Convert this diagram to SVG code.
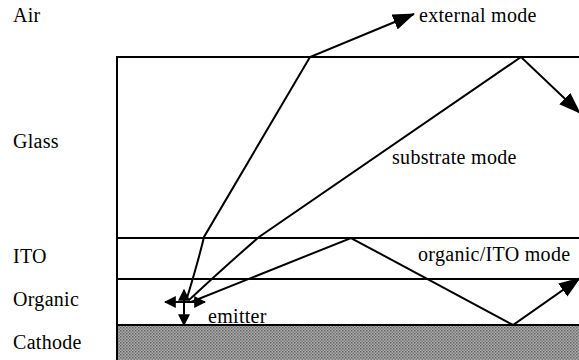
<svg xmlns="http://www.w3.org/2000/svg" width="579" height="360" viewBox="0 0 579 360">
<style>
text{font-family:'Liberation Serif','DejaVu Serif',serif;font-size:20px;letter-spacing:0.3px;fill:#000}
.ln{stroke:#000;stroke-width:2;fill:none}
.ray{stroke:#000;stroke-width:2;fill:none;stroke-linejoin:miter}
</style>
<defs>
<marker id="ah" viewBox="0 0 22 16" refX="21" refY="8" markerWidth="22" markerHeight="16" markerUnits="userSpaceOnUse" orient="auto">
<path d="M0,0 L22,8 L0,16 Z" fill="#000"/>
</marker>
<marker id="sh" viewBox="0 0 10 10" refX="9" refY="5" markerWidth="12" markerHeight="12" markerUnits="userSpaceOnUse" orient="auto">
<path d="M0,0 L10,5 L0,10 Z" fill="#000"/>
</marker>
<pattern id="dots" width="3" height="3" patternUnits="userSpaceOnUse">
<rect width="3" height="3" fill="#b0b0b0"/>
<rect width="1.5" height="1.5" fill="#606060"/>
<rect x="1.5" y="1.5" width="1.5" height="1.5" fill="#787878"/>
</pattern>
</defs>
<g id="layers">
<rect id="cathode" x="117" y="325" width="462" height="35" fill="url(#dots)"/>
<path class="ln" d="M117,360 V57 H579"/>
<path class="ln" d="M117,238 H579 M117,279 H579 M117,325 H579"/>
</g>
<g id="labels">
<text x="13" y="22">Air</text>
<text x="13" y="148">Glass</text>
<text x="13" y="263">ITO</text>
<text x="13" y="306">Organic</text>
<text x="13" y="349">Cathode</text>
</g>
<g id="connectors">
<path id="external" class="ray" d="M187,298 Q198,262 204,237 L310,57 L414,14" marker-end="url(#ah)"/>
<path id="substrate" class="ray" d="M189,300 Q230,262 259,237 L521,57 L580,113" marker-end="url(#ah)"/>
<path id="organic" class="ray" d="M191,302 L351,238 L513,325 L580,278" marker-end="url(#ah)"/>
</g>
<g id="emitter">
<line class="ln" x1="184" y1="302" x2="165" y2="302" marker-end="url(#sh)"/>
<line class="ln" x1="184" y1="302" x2="205" y2="302" marker-end="url(#sh)"/>
<line class="ln" x1="184" y1="302" x2="184" y2="290" marker-end="url(#sh)"/>
<line class="ln" x1="184" y1="302" x2="184" y2="325" marker-end="url(#sh)"/>
<text x="208" y="323">emitter</text>
</g>
<g id="mode-labels">
<text x="419" y="22">external mode</text>
<text x="392" y="164">substrate mode</text>
<text x="418" y="261">organic/ITO mode</text>
</g>
</svg>
